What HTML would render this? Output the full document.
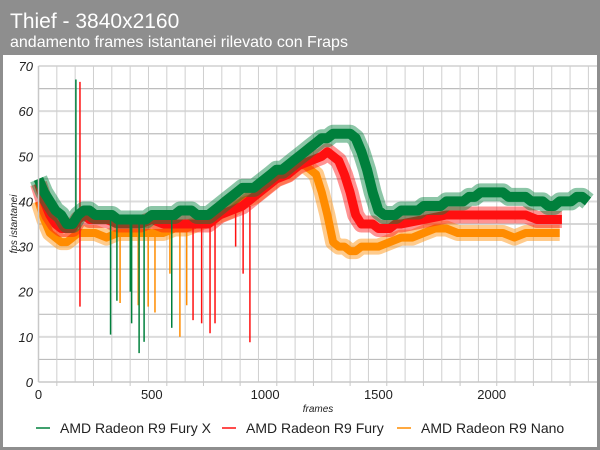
<!DOCTYPE html>
<html><head><meta charset="utf-8"><style>
html,body{margin:0;padding:0;background:#8e8e8e;}
#wrap{position:relative;width:600px;height:450px;background:#8e8e8e;overflow:hidden;font-family:"Liberation Sans",sans-serif;}
</style></head><body>
<div id="wrap">
<svg id="chart" width="600" height="450" xmlns="http://www.w3.org/2000/svg">
<rect x="0" y="0" width="600" height="55" fill="#8e8e8e"/>
<text x="10" y="28" font-size="21" fill="#fff" font-family="Liberation Sans, sans-serif">Thief - 3840x2160</text>
<text x="10" y="47" font-size="16" fill="#fff" font-family="Liberation Sans, sans-serif">andamento frames istantanei rilevato con Fraps</text>
<rect x="3" y="55" width="594" height="392" fill="#fff"/>
<g id="grid"></g>
<g id="series"></g>
<g id="axes"></g>
<g id="legend"></g>
</svg>
</div>
<script>
const yTicks=[0,10,20,30,40,50,60,70];
const xTicks=[0,500,1000,1500,2000];
const greenFrames=[0,25,50,75,100,125,150,175,200,225,250,275,300,325,350,375,400,425,450,475,500,525,550,575,600,625,650,675,700,725,750,775,800,825,850,875,900,925,950,975,1000,1025,1050,1075,1100,1125,1150,1175,1200,1225,1250,1275,1300,1325,1350,1375,1400,1425,1450,1475,1500,1525,1550,1575,1600,1625,1650,1675,1700,1725,1750,1775,1800,1825,1850,1875,1900,1925,1950,1975,2000,2025,2050,2075,2100,2125,2150,2175,2200,2225,2250,2275,2300,2325,2350,2375,2400,2425];
const greenValues=[45,42,40,38,37,35,35,37,38,38,37,37,37,37,36,36,36,36,36,36,37,37,37,37,37,38,38,38,37,37,37,38,39,40,41,42,43,43,43,44,45,46,47,47,48,49,50,51,52,53,54,54,55,55,55,55,54,51,47,42,38,37,37,37,38,38,38,38,39,39,39,39,40,40,40,40,41,41,42,42,42,42,42,41,41,41,41,40,40,40,39,39,40,40,40,41,41,40];
const redFrames=[0,25,50,75,100,125,150,175,200,225,250,300,350,400,450,500,550,600,650,700,750,800,850,900,950,1000,1050,1100,1150,1200,1250,1275,1300,1325,1350,1375,1400,1425,1450,1475,1500,1525,1550,1575,1600,1700,1800,1900,2000,2100,2150,2200,2250,2310];
const redValues=[44,40,37,35,34,34,34,36,37,36,36,36,35,35,35,36,35,35,35,35,35,37,38,39,41,43,45,46,48,49,50,51,50,49,46,42,37,35,35,35,34,34,34,35,35,36,37,37,37,37,37,36,36,36];
const orangeFrames=[0,25,50,75,100,125,150,175,200,250,300,350,400,450,500,550,600,650,700,750,800,850,900,950,1000,1050,1100,1150,1175,1200,1225,1250,1275,1300,1325,1350,1375,1400,1425,1450,1475,1500,1550,1600,1650,1700,1750,1800,1850,1900,1950,2000,2050,2100,2150,2200,2250,2300];
const orangeValues=[40,36,33,32,31,31,32,33,33,33,32,33,33,33,33,33,34,34,35,36,37,38,40,41,43,45,46,48,48,47,46,42,37,31,30,30,29,29,30,30,30,30,31,32,32,33,34,34,33,33,33,33,33,32,33,33,33,33];
const greenSpikeFrames=[165,318,346,405,411,444,466,588];
const greenSpikeValues=[67,10.5,18,20,13,6.4,8.9,12];
const redSpikeFrames=[183,183,682,720,757,779,870,903,933];
const redSpikeValues=[66.5,16.7,13.7,13,10.8,13,30,24,8.8];
const orangeSpikeFrames=[360,440,484,514,580,624,654];
const orangeSpikeValues=[17.5,17,16.7,15.4,24,10,17];

const X0=38.5, XS=0.2266, Y0=382, YS=4.514, XR=597, YT=66;
const xPos=f=>X0+f*XS;
const yPos=v=>Y0-v*YS;
const NS='http://www.w3.org/2000/svg';
function mk(tag,attrs,parent){const e=document.createElementNS(NS,tag);for(const k in attrs)e.setAttribute(k,attrs[k]);parent.appendChild(e);return e;}
const grid=document.getElementById('grid'),series=document.getElementById('series'),axes=document.getElementById('axes'),legend=document.getElementById('legend');

for(let v=5;v<=70;v+=5){const l=mk('line',{x1:X0,x2:XR,y1:yPos(v),y2:yPos(v),stroke:v%10===0?'#dcdcdc':'#bdbdbd','stroke-width':v%10===0?2:1.2},grid);

}
for(let x=X0+18.33;x<XR;x+=18.33){const l=mk('line',{x1:x,x2:x,y1:YT,y2:Y0,stroke:'#cfcfcf','stroke-width':1},grid);

}

function drawSeries(frames,vals,sf,sv,color,w,name){
 const g=mk('g',{},series);
 
 
 const pts=frames.map((f,i)=>xPos(f).toFixed(1)+','+yPos(vals[i]).toFixed(1)).join(' ');
 const h=mk('polyline',{points:pts,fill:'none',stroke:color,'stroke-width':w+8,'stroke-opacity':0.45,'stroke-linejoin':'round','stroke-linecap':'butt'},g);
 
 
 const p=mk('polyline',{points:pts,fill:'none',stroke:color,'stroke-width':w,'stroke-linejoin':'round','stroke-linecap':'butt'},g);
 
 
 sf.forEach((f,i)=>{
  let j=0;while(j<frames.length-1&&frames[j+1]<f)j++;
  const c=vals[j];
  const s=mk('line',{x1:xPos(f),x2:xPos(f),y1:yPos(c),y2:yPos(sv[i]),stroke:color,'stroke-width':1.5},g);
  
  
 });
}
drawSeries(orangeFrames,orangeValues,orangeSpikeFrames,orangeSpikeValues,'#ff8c00',8,'series-nano');
drawSeries(redFrames,redValues,redSpikeFrames,redSpikeValues,'#ff1010',9,'series-fury');
drawSeries(greenFrames,greenValues,greenSpikeFrames,greenSpikeValues,'#00803c',10,'series-fury-x');

let a=mk('line',{x1:X0,x2:X0,y1:YT,y2:Y0,stroke:'#c8c8c8','stroke-width':1.5},axes);


a=mk('line',{x1:X0,x2:XR,y1:Y0,y2:Y0,stroke:'#c8c8c8','stroke-width':1.5},axes);


yTicks.forEach(v=>{const t=mk('text',{x:33,y:yPos(v)+5,'text-anchor':'end','font-size':13,'font-style':'italic',fill:'#222','font-family':'Liberation Sans, sans-serif'},axes);t.textContent=v;

});
xTicks.forEach(v=>{const t=mk('text',{x:xPos(v),y:399,'text-anchor':'middle','font-size':13,fill:'#222','font-family':'Liberation Sans, sans-serif'},axes);t.textContent=v;

});
for(let x=X0+18.33;x<XR;x+=36.66){const l=mk('line',{x1:x,x2:x,y1:Y0,y2:Y0+4,stroke:'#c8c8c8','stroke-width':1},axes);

}
let t=mk('text',{x:318,y:412,'text-anchor':'middle','font-size':10,'font-style':'italic',fill:'#222','font-family':'Liberation Sans, sans-serif'},axes);t.textContent='frames';


t=mk('text',{x:17,y:224,'text-anchor':'middle','font-size':10,'font-style':'italic',fill:'#222','font-family':'Liberation Sans, sans-serif',transform:'rotate(-90 17 224)'},axes);t.textContent='fps istantanei';



const legendNames=['AMD Radeon R9 Fury X','AMD Radeon R9 Fury','AMD Radeon R9 Nano'];
const legendColors=['#00803c','#ff1010','#ff8c00'];
const legendX=[36,222,397];
legendNames.forEach((n,i)=>{
 const g=mk('g',{},legend);
 
 
 mk('line',{x1:legendX[i],x2:legendX[i]+14,y1:428,y2:428,stroke:legendColors[i],'stroke-width':1.5},g);
 const tx=mk('text',{x:legendX[i]+24,y:433,'font-size':14,fill:'#222','font-family':'Liberation Sans, sans-serif'},g);tx.textContent=n;
});
</script>
</body></html>
